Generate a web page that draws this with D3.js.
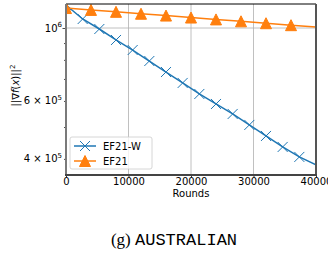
<!DOCTYPE html>
<html><head><meta charset="utf-8">
<script src="https://cdn.jsdelivr.net/npm/d3@7"></script>
<style>body{margin:0;background:#fff}svg{display:block}</style>
</head><body>
<script>
// Data
const roundsW = [0, 2667, 5333, 8000, 10667, 13333, 16000, 18667, 21333, 24000, 26667, 29333, 32000, 34667, 37333, 40000];
const ef21w = [1.175e6, 1.065e6, 0.993e6, 0.9195e6, 0.8572e6, 0.7937e6, 0.7348e6, 0.6807e6, 0.6301e6, 0.5875e6, 0.5478e6, 0.5073e6, 0.4696e6, 0.4348e6, 0.4055e6, 0.3834e6];
const rounds = [0, 4000, 8000, 12000, 16000, 20000, 24000, 28000, 32000, 36000, 40000];
const ef21 = [1.150e6, 1.135e6, 1.120e6, 1.105e6, 1.091e6, 1.076e6, 1.062e6, 1.048e6, 1.034e6, 1.020e6, 1.007e6];
const xTicks = [0, 10000, 20000, 30000, 40000];
const yMajor = [1e6];
const yMinor = [4e5, 5e5, 6e5, 7e5, 8e5, 9e5];
const yLabeled = [{v: 1e6, m: "", b: "10", e: "6"}, {v: 6e5, m: "6 × ", b: "10", e: "5"}, {v: 4e5, m: "4 × ", b: "10", e: "5"}];
const seriesNames = ["EF21-W", "EF21"];

const W = 328, H = 256;
const m = {l: 66, r: 316, t: 4, b: 175};
const svg = d3.select("body").append("svg").attr("width", W).attr("height", H);
const x = d3.scaleLinear().domain([0, 40000]).range([m.l, m.r]);
const y = d3.scaleLog().domain([0.3573e6, 1.183e6]).range([m.b, m.t]);
const font = "DejaVu Sans";
const blue = "#1f77b4", orange = "#ff7f0e";

svg.append("defs").append("clipPath").attr("id", "clip")
  .append("rect").attr("x", m.l).attr("y", m.t).attr("width", m.r - m.l).attr("height", m.b - m.t);

// grid
const g = svg.append("g");
g.selectAll(".gx").data(xTicks).enter().append("line")
  .attr("x1", d => x(d)).attr("x2", d => x(d)).attr("y1", m.t).attr("y2", m.b)
  .attr("stroke", "#b0b0b0").attr("stroke-width", 0.8);
g.selectAll(".gy").data(yMajor).enter().append("line")
  .attr("y1", d => y(d)).attr("y2", d => y(d)).attr("x1", m.l).attr("x2", m.r)
  .attr("stroke", "#b0b0b0").attr("stroke-width", 0.8);

// axes
const xAxis = d3.axisBottom(x).tickValues(xTicks).tickSize(2.5).tickPadding(0).tickFormat(d3.format("d"));
const xa = svg.append("g").attr("transform", `translate(0,${m.b})`).call(xAxis);
xa.select(".domain").remove();
xa.selectAll("text").attr("font-family", font).attr("font-size", 10).attr("fill", "#000");
xa.selectAll("line").attr("stroke", "#000").attr("stroke-width", 0.8);

const ya = svg.append("g").attr("transform", `translate(${m.l},0)`);
ya.call(d3.axisLeft(y).tickValues(yMinor).tickSize(2).tickFormat(""));
ya.call(g2 => g2.append("g").call(d3.axisLeft(y).tickValues(yMajor).tickSize(3.5).tickFormat("")));
ya.selectAll(".domain").remove();
ya.selectAll("line").attr("stroke", "#000").attr("stroke-width", 0.7);

const yl = svg.append("g");
yLabeled.forEach(t => {
  const tx = yl.append("text").attr("x", m.l - 4).attr("y", y(t.v) + 3.5)
    .attr("text-anchor", "end").attr("font-family", font).attr("font-size", 10).attr("fill", "#000");
  tx.append("tspan").text(t.m + t.b);
  tx.append("tspan").attr("dy", -4.5).attr("font-size", 7).text(t.e);
});

// lines
const line = d3.line().x(d => x(d[0])).y(d => y(d[1]));
const plot = svg.append("g").attr("clip-path", "url(#clip)");
const dW = roundsW.map((r, i) => [r, ef21w[i]]);
const dE = rounds.map((r, i) => [r, ef21[i]]);
plot.append("path").datum(dW).attr("d", line).attr("fill", "none").attr("stroke", blue).attr("stroke-width", 1.5);
const xs = 5;
plot.selectAll(".mx").data(dW.slice(0, -1)).enter().append("path")
  .attr("d", d => { const cx = x(d[0]), cy = y(d[1]); return `M${cx-xs},${cy-xs}L${cx+xs},${cy+xs}M${cx-xs},${cy+xs}L${cx+xs},${cy-xs}`; })
  .attr("stroke", blue).attr("stroke-width", 1);
plot.append("path").datum(dE).attr("d", line).attr("fill", "none").attr("stroke", orange).attr("stroke-width", 1.5);
const tri = (cx, cy, s) => `M${cx},${cy - s}L${cx + s},${cy + s}L${cx - s},${cy + s}Z`;
plot.selectAll(".mt").data(dE.slice(0, -1)).enter().append("path")
  .attr("d", d => tri(x(d[0]), y(d[1]), 5.5)).attr("fill", orange).attr("stroke", orange).attr("stroke-width", 1);

// spines
svg.append("line").attr("x1", m.l).attr("x2", m.r).attr("y1", m.t).attr("y2", m.t).attr("stroke", "#000").attr("stroke-width", 1);
svg.append("line").attr("x1", m.l).attr("x2", m.l).attr("y1", m.t).attr("y2", m.b).attr("stroke", "#7a7a7a").attr("stroke-width", 2);
svg.append("line").attr("x1", m.r).attr("x2", m.r).attr("y1", m.t).attr("y2", m.b).attr("stroke", "#555").attr("stroke-width", 2);
svg.append("line").attr("x1", m.l - 1).attr("x2", m.r + 1).attr("y1", m.b).attr("y2", m.b).attr("stroke", "#444").attr("stroke-width", 2);

// labels
svg.append("text").attr("x", (m.l + m.r) / 2).attr("y", 197).attr("text-anchor", "middle")
  .attr("font-family", font).attr("font-size", 10).text("Rounds");
const ylab = svg.append("text").attr("transform", `translate(19,${(m.t + m.b) / 2 - 4}) rotate(-90)`)
  .attr("text-anchor", "middle").attr("font-family", font).attr("font-size", 10);
ylab.append("tspan").text("||∇");
ylab.append("tspan").attr("font-style", "italic").text("f");
ylab.append("tspan").text("(");
ylab.append("tspan").attr("font-style", "italic").text("x");
ylab.append("tspan").text(")||");
ylab.append("tspan").attr("dy", -4).attr("font-size", 7).text("2");

// legend
const lg = svg.append("g");
lg.append("rect").attr("x", 70).attr("y", 137).attr("width", 82).attr("height", 32).attr("rx", 2)
  .attr("fill", "#fff").attr("fill-opacity", 0.8).attr("stroke", "#ccc").attr("stroke-width", 0.8);
const ly = [146, 161];
lg.append("line").attr("x1", 74).attr("x2", 96).attr("y1", ly[0]).attr("y2", ly[0]).attr("stroke", blue).attr("stroke-width", 1.5);
lg.append("path").attr("d", `M${85-xs},${ly[0]-xs}L${85+xs},${ly[0]+xs}M${85-xs},${ly[0]+xs}L${85+xs},${ly[0]-xs}`).attr("stroke", blue).attr("stroke-width", 1);
lg.append("line").attr("x1", 74).attr("x2", 96).attr("y1", ly[1]).attr("y2", ly[1]).attr("stroke", orange).attr("stroke-width", 1.5);
lg.append("path").attr("d", tri(85, ly[1], 5.5)).attr("fill", orange).attr("stroke", orange);
seriesNames.forEach((n, i) => lg.append("text").attr("x", 103).attr("y", ly[i] + 3.5)
  .attr("font-family", font).attr("font-size", 10).text(n));

// caption
const cap = svg.append("text").attr("x", 174).attr("y", 245).attr("text-anchor", "middle").attr("font-size", 17);
cap.append("tspan").attr("font-family", "Liberation Serif").text("(g) ");
cap.append("tspan").attr("font-family", "Liberation Mono").text("AUSTRALIAN");
</script>
</body></html>
